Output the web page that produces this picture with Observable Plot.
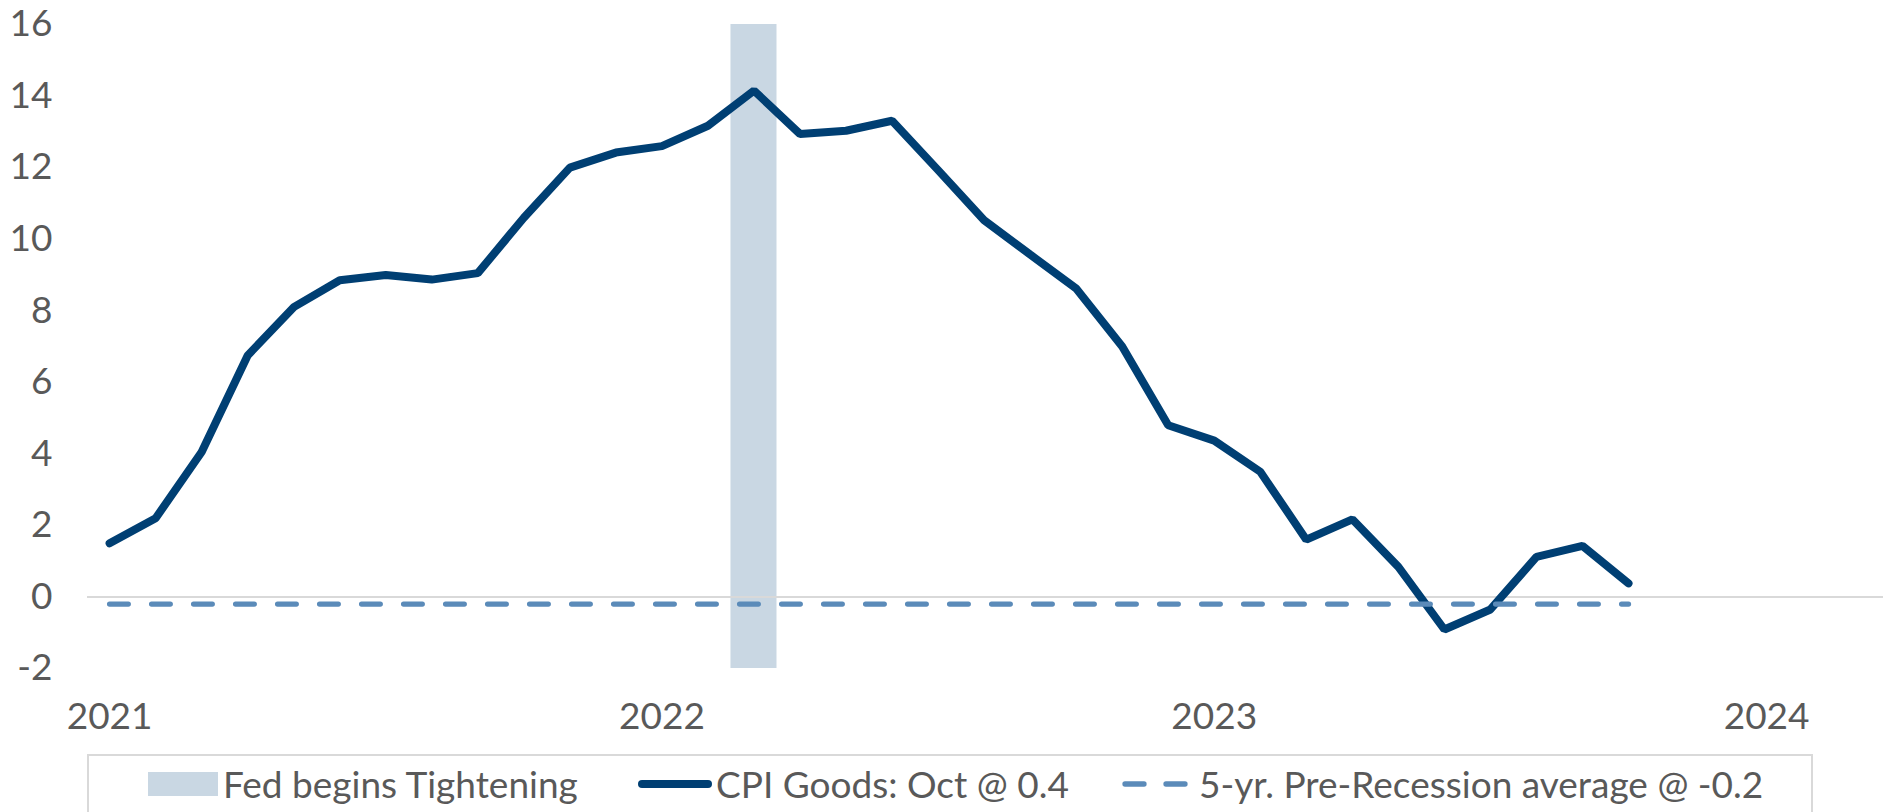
<!DOCTYPE html>
<html>
<head>
<meta charset="utf-8">
<script src="https://cdn.jsdelivr.net/npm/d3@7"></script>
<script src="https://cdn.jsdelivr.net/npm/@observablehq/plot@0.6"></script>
<style>
  html, body { margin: 0; padding: 0; background: #fff; overflow: hidden; }
  #wrap { position: relative; width: 1887px; height: 812px; font-family: Lato, "Open Sans", sans-serif; }
  #chart svg { display: block; }
  #legend { position: absolute; left: 87px; top: 754px; width: 1726px; height: 80px; border: 2px solid #D9D9D9; box-sizing: border-box; }
  .item { position: absolute; top: 0; height: 55px; display: flex; align-items: center; }
  .lbl { font-size: 37px; color: #595959; white-space: nowrap; line-height: 1; }
</style>
</head>
<body>
<div id="wrap">
  <div id="chart"></div>
  <div id="legend"></div>
</div>
<script>
// ---- data ----
const months = [
  "2021-01","2021-02","2021-03","2021-04","2021-05","2021-06","2021-07","2021-08","2021-09","2021-10","2021-11","2021-12",
  "2022-01","2022-02","2022-03","2022-04","2022-05","2022-06","2022-07","2022-08","2022-09","2022-10","2022-11","2022-12",
  "2023-01","2023-02","2023-03","2023-04","2023-05","2023-06","2023-07","2023-08","2023-09","2023-10"
];
const cpiGoods = [
  1.5, 2.2, 4.05, 6.75, 8.1, 8.85, 9.0, 8.87, 9.05, 10.6, 12.0, 12.42,
  12.6, 13.17, 14.15, 12.94, 13.03, 13.31, 11.93, 10.53, 9.57, 8.62, 7.0, 4.8,
  4.37, 3.5, 1.6, 2.17, 0.84, -0.91, -0.35, 1.12, 1.43, 0.38
];
const preRecessionAverage = -0.2;
const tighteningMonth = "2022-03";
const yearTicks = ["2021", "2022", "2023", "2024"];
const yTicks = [-2, 0, 2, 4, 6, 8, 10, 12, 14, 16];
const legendLabels = ["Fed begins Tightening", "CPI Goods: Oct @ 0.4", "5-yr. Pre-Recession average @ -0.2"];

// ---- derived ----
const monthIndex = m => { const [y, mo] = m.split("-").map(Number); return (y - 2021) * 12 + (mo - 1); };
const cpiData = months.map((m, i) => ({ x: monthIndex(m), y: cpiGoods[i] }));
const avgData = months.map(m => ({ x: monthIndex(m), y: preRecessionAverage }));
const tIdx = monthIndex(tighteningMonth);
const bandData = [{ x1: tIdx - 0.5, x2: tIdx + 0.5 }];
const xTickVals = yearTicks.map(y => monthIndex(y + "-01"));

const NAVY = "#003F73";
const DASH = "#5B8BB9";
const BAND = "#C9D7E3";
const TEXT = "#595959";

const chart = Plot.plot({
  width: 1887,
  height: 750,
  marginLeft: 87,
  marginRight: 4,
  marginTop: 24,
  marginBottom: 82,
  style: { fontFamily: "Lato, 'Open Sans', sans-serif", background: "#fff", overflow: "visible" },
  x: { type: "linear", domain: [-0.48, 38.54], ticks: xTickVals, tickFormat: d => String(2021 + d / 12) },
  y: { domain: [-2, 16], ticks: yTicks },
  marks: [
    Plot.rect(bandData, { x1: "x1", x2: "x2", y1: -2, y2: 16, fill: BAND }),
    Plot.ruleY([0], { stroke: "#D9D9D9", strokeWidth: 2 }),
    Plot.line(cpiData, { x: "x", y: "y", stroke: NAVY, strokeWidth: 8, strokeLinecap: "round", strokeLinejoin: "miter" }),
    Plot.line(avgData, { x: "x", y: "y", stroke: DASH, strokeWidth: 5.3, strokeDasharray: "18.7,23.3", strokeLinecap: "round" }),
    Plot.axisY({ ticks: yTicks, tickSize: 0, tickPadding: 35, fontSize: 37, fill: TEXT, label: null, tickFormat: d => String(d) }),
    Plot.axisX({ ticks: xTickVals, tickSize: 0, tickPadding: 34, fontSize: 37, fill: TEXT, label: null, tickFormat: d => String(2021 + d / 12) })
  ]
});
document.getElementById("chart").appendChild(chart);

// ---- legend ----
const legend = document.getElementById("legend");
const items = [
  { left: 148 - 89, swatch: `<svg width="70" height="24"><rect x="0" y="0" width="70" height="24" fill="${BAND}"/></svg>`, gap: 5 },
  { left: 638 - 89, swatch: `<svg width="74" height="10"><line x1="4" y1="5" x2="70" y2="5" stroke="${NAVY}" stroke-width="8" stroke-linecap="round"/></svg>`, gap: 4 },
  { left: 1122 - 89, swatch: `<svg width="66" height="10"><line x1="3" y1="5" x2="22" y2="5" stroke="${DASH}" stroke-width="5.3" stroke-linecap="round"/><line x1="44" y1="5" x2="63" y2="5" stroke="${DASH}" stroke-width="5.3" stroke-linecap="round"/></svg>`, gap: 11 }
];
items.forEach((it, i) => {
  const d = document.createElement("div");
  d.className = "item";
  d.style.left = it.left + "px";
  d.innerHTML = it.swatch + `<span class="lbl" style="margin-left:${it.gap}px">${legendLabels[i]}</span>`;
  legend.appendChild(d);
});
</script>
</body>
</html>
